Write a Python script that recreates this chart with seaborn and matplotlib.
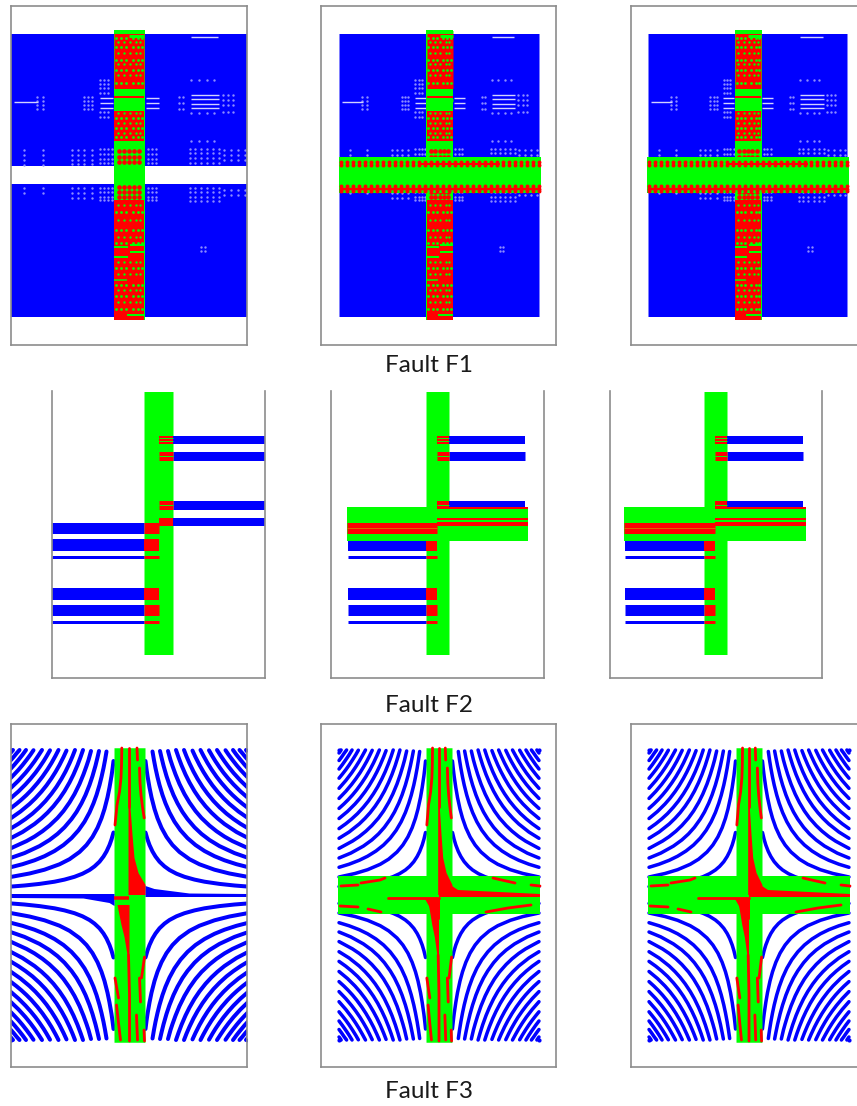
import itertools
import numpy as np
import pandas as pd
import matplotlib
matplotlib.use("Agg")
import matplotlib.pyplot as plt
import seaborn as sns

W, H = 857, 1106
BLUE, GREEN, RED = "#0000ff", "#00ff00", "#ff0000"
FRAME = "#8c8c8c"

# panel frames in picture pixels: left, right, top, bottom, centre of the fault column
F1_PANELS = [(11, 247, 6, 345, 129.5), (321, 556, 6, 345, 439.5), (631, 857, 6, 345, 748)]
F2_PANELS = [(52, 265, 391, 678, 158.5), (331, 544, 391, 678, 437.5), (610, 822, 391, 678, 715)]
F3_PANELS = [(11, 247, 724, 1067, 129.5), (321, 556, 724, 1067, 439), (631, 857, 724, 1067, 749)]
TITLES = ["Fault F1", "Fault F2", "Fault F3"]
TITLE_Y = [366, 705, 1091]

# ---- fault F1
F1_BLUE_Y = (34, 317)
F1_GAP_Y = (166, 184)
F1_RED_SPANS = [(34, 89), (96, 98), (111, 141), (200, 320)]
F1_GREEN_ROWS = [(-15, 15, 32, 3), (0, 15, 36, 3), (-15, 15, 92, 4), (-15, -1, 104, 12), (1, 15, 100, 3),
                 (1, 15, 106, 2), (-15, -1, 247, 2), (-15, -1, 257, 2), (1, 15, 245, 2), (1, 15, 252, 2),
                 (-15, -2, 280, 1.5), (-2, 15, 315, 2)]
F1_COL_DX_A = [-13, -8, -3, 4, 9, 13]
F1_COL_DX_B = [-11, -5, 1, 7, 11]
F1_COL_Y_A = [38, 47, 60, 70, 83, 118, 128, 137, 212, 230, 243, 268, 285, 296, 309]
F1_COL_Y_B = [42, 53, 64, 75, 113, 123, 133, 205, 220, 237, 262, 274, 290, 302]
F1_MIX_DX = [-10, -5, 0, 5, 10]
F1_MIX_Y = [151, 157, 162, 187, 192, 197]
F1_WHITE_LINES = [(-116, -91, 102), (-29.5, -16.5, 98), (-29.5, -16.5, 103), (-29.5, -16.5, 108),
                  (17, 30, 98), (17, 30, 103), (17, 30, 108), (62, 90, 95), (62, 90, 99), (62, 90, 104),
                  (62, 90, 108), (62, 89, 37)]
F1_HOLES = [([-106, -86], [150, 155, 160, 165, 188, 193]),
            ([-57, -51, -45, -37], [150, 155, 160, 164, 188, 193, 198]),
            ([-29, -25, -21, -17], [149, 154, 159, 163, 188, 192, 197, 200]),
            ([19, 23, 27], [149, 154, 159, 163, 188, 192, 197, 200]),
            ([61, 66, 72, 78, 84, 90], [149, 153, 158, 163, 188, 192, 197, 201]),
            ([95, 102, 109, 116], [150, 155, 160, 190, 195]),
            ([-29, -25, -21], [80, 84, 88, 93, 112, 117]),
            ([-45, -41, -37], [97, 101, 105, 109]),
            ([-92, -86], [97, 101, 105, 109]),
            ([50, 54], [97, 103, 109]),
            ([94, 99, 104], [95, 100, 105, 112]),
            ([62, 70, 78, 85], [80, 113, 141]),
            ([72, 76], [247, 251])]
F1_BAND_Y = (157, 193)
F1_BAND_DX = [-99, -93, -87, -81, -75, -69, -63, -57, -51, -45, -39, -33, -27, -21, -15, -9, -3, 3, 9, 15,
              21, 27, 33, 39, 45, 51, 57, 63, 69, 75, 81, 87, 93, 99]
F1_BAND_ROWS = [162, 165, 186, 189, 191]

# ---- fault F2, rows are top and bottom y of each stripe
F2_RIGHT_ROWS = [(436, 444), (452, 461), (501, 510), (518, 526)]
F2_LEFT_ROWS = [(523, 534), (539, 551), (556, 559), (588, 600), (605, 616), (621, 624)]
F2_COLUMN_Y = (392, 655)
F2_EDGE = 91
F2_BAND_Y = (507, 541)
F2_BAND_RED_LEFT = (523, 534)
F2_BAND_RED_RIGHT = [(507, 509), (518, 520), (522, 526)]
F2_STUB_GREEN = [437.5, 441, 456, 505]

# ---- fault F3, streamlines of the upper left quadrant as (distance from centre x, distance from centre y)
F3_CURVES = [
    [(16, 62.5), (18, 55.6), (20, 50), (23, 43.5), (26, 38.5), (30, 33.3), (35, 28.6), (40, 25), (47, 21.3),
     (55, 18.2), (65, 15.4), (75, 13.3), (90, 11.1), (105, 9.5), (119, 8.4)],
    [(16, 134), (17, 126), (18, 119), (20, 107.5), (22, 97.7), (25, 86), (28, 76.8), (32, 67.2), (37, 58.1),
     (43, 50), (50, 43), (60, 35.8), (70, 30.7), (85, 25.3), (100, 21.5), (119, 18)],
    [(23, 143.5), (24.5, 134.7), (26, 126.9), (28, 117.9), (30, 110), (33, 100), (36, 91.7), (40, 82.5),
     (45, 73.3), (51, 64.7), (58, 56.9), (66, 50), (75, 44), (85, 38.8), (95, 34.7), (107, 30.8), (119, 27.7)],
    [(30.5, 144), (32, 137.5), (34, 129.4), (37, 118.9), (40, 110), (44, 100), (48, 91.7), (53, 83), (58, 75.9),
     (65, 67.7), (72, 61.1), (80, 55), (90, 48.9), (105, 41.9), (119, 37)],
    [(38.5, 144), (41, 135), (43, 129), (46, 120.7), (50, 111), (55, 100.9), (60, 92.5), (66, 84), (72, 77),
     (80, 69.4), (87, 63.8), (95, 58.4), (103, 53.9), (119, 46.6)],
    [(46.5, 145), (49, 137.8), (52, 129.8), (56, 120.5), (60, 112.5), (65, 103.8), (70, 96.4), (76, 88.8),
     (82, 82.3), (88, 76.7), (95, 71), (107, 63), (119, 56.7)],
    [(54.5, 145), (57, 138.6), (60, 131.7), (64, 123.4), (68, 116.2), (73, 108.2), (78, 101.3), (84, 94),
     (90, 87.8), (97, 81.4), (104, 76), (111, 71.2), (119, 66.4)],
    [(63, 144.4), (66, 137.9), (70, 130), (74, 123), (78, 116.7), (83, 109.6), (88, 103.4), (94, 96.8),
     (100, 91), (109, 83.5), (119, 76.5)],
    [(71, 145), (74, 139.2), (78, 132), (82, 125.6), (87, 118.4), (92, 112), (98, 105.1), (103, 100),
     (108, 95.4), (113, 91.2), (119, 86.6)],
    [(79.5, 144.7), (83, 138.6), (86, 133.7), (90, 127.8), (94, 122.3), (99, 116.2), (104, 110.6), (111, 103.6),
     (119, 96.6)],
    [(87.5, 145), (91, 139.6), (95, 133.7), (99, 128.3), (104, 122.1), (111, 114.4), (119, 106.7)],
    [(96, 144.8), (99, 140.4), (103, 135), (107, 129.9), (111, 125.2), (115, 120.9), (119, 116.8)],
    [(103.5, 145), (107, 140.2), (110, 136.4), (115, 130.4), (119, 126)],
    [(110, 145), (113, 141.6), (116, 137.9), (119, 134.5)],
    [(116.5, 145), (119, 142)],
]
# red strokes inside the column: dx, dy with dy up from centre
F3_RED_STROKES = [
    [(-7.7, 147), (-8, 130), (-8.5, 117), (-10, 103), (-12.5, 90), (-14.5, 70)],
    [(0, 147), (0, 88)],
    [(7.5, 147), (8, 135)],
    [(10, 127), (10.5, 112), (11.5, 100), (13, 88), (14.7, 77)],
    [(-14.5, -83), (-11, -103)],
    [(-13, -110), (-11, -128), (-9, -145)],
    [(-1, -60), (0, -100), (0, -146)],
    [(7, -120), (8, -145)],
    [(10, -83), (11, -107)],
    [(15, -62), (12, -83)],
    [(14.5, -135), (15, -146)],
]
F3_RED_TOP = [(-1, 87), (1, 87), (3, 60), (5, 37), (9, 22), (16, 10), (16, 0), (-1, 0)]
F3_RED_LOW = [(-12, -10), (0, -10), (0, -60), (-2, -60), (-5, -42), (-8, -30)]
F3_BLUE_LEFT = [(-119.5, 1), (-15, 1), (-15, -11), (-20, -8), (-46, -3.5), (-119.5, -3)]
F3_BLUE_RIGHT = [(16, -2), (117.5, -2), (117.5, 1), (60, 1.5), (25, 6), (16, 9)]
F3_BAND_STROKES = [
    [(-98, 9), (-81, 10)], [(-78, 12), (-59, 15), (-54, 17)], [(54, 17), (76, 12)], [(92, 10), (101, 9)],
    [(-99, -11), (-81, -12)], [(-71, -14), (-58, -17)], [(47, -17), (69, -13), (92, -10)],
    [(-51, -2.5), (0, -2.5)],
]
F3_BAND_WEDGE = [(0, 20), (7, 13), (19, 5), (101, 1), (101, -2), (0, -2)]
F3_BAND_LOW = [(-14, -4), (1, -4), (1, -25), (-5, -20)]
F3_CORNER = (119, 145)

SCALE_WIDE = 1.0
SCALE_NARROW = 0.84

sns.set_style("white")
plt.rcParams["font.family"] = ["Lato", "DejaVu Sans"]
fig = plt.figure(figsize=(W / 100, H / 100), dpi=100)
order = itertools.count(3)


def panel(box, top=True, right=True):
    l, r, t, b = box[:4]
    ax = fig.add_axes([l / W, 1 - b / H, (r - l) / W, (b - t) / H])
    ax.set_xlim(l, r)
    ax.set_ylim(b, t)
    ax.set_xticks([])
    ax.set_yticks([])
    ax.set_facecolor("white")
    for name, s in ax.spines.items():
        s.set_color(FRAME)
        s.set_linewidth(1.2)
        s.set_zorder(5000)
    ax.spines["top"].set_visible(top)
    ax.spines["right"].set_visible(right)
    return ax


def seg(ax, xs, ys, width, color, cap="butt"):
    # width in picture pixels
    sns.lineplot(x=list(xs), y=list(ys), ax=ax, color=color, linewidth=width * 0.72, zorder=next(order),
                 estimator=None, sort=False, solid_capstyle=cap, legend=False)


def band(ax, x0, x1, y0, y1, color):
    seg(ax, [x0, x1], [(y0 + y1) / 2] * 2, y1 - y0, color)


def dots(ax, xs, ys, color, size=3):
    gx, gy = np.meshgrid(xs, ys)
    df = pd.DataFrame({"x": gx.ravel(), "y": gy.ravel()})
    sns.scatterplot(data=df, x="x", y="y", ax=ax, color=color, s=size, linewidth=0, legend=False,
                    zorder=next(order))
    ax.set_xlabel("")
    ax.set_ylabel("")


def shape_fill(ax, xs, ys, color):
    ax.fill(xs, ys, color=color, lw=0, zorder=next(order))


def draw_f1(ax, cx, with_band):
    k = SCALE_NARROW if with_band else SCALE_WIDE
    half = 13.5 if with_band else 15.5
    x0, x1 = cx - 119.5 * k, cx + 118 * k
    band(ax, x0, x1, F1_BLUE_Y[0], F1_BLUE_Y[1], BLUE)
    if not with_band:
        band(ax, x0 - 1, x1 + 1, F1_GAP_Y[0], F1_GAP_Y[1], "white")
    for dx, rows in F1_HOLES:
        dots(ax, [cx + d * k for d in dx], rows, "#8c8cff", 3)
    for a, b, y in F1_WHITE_LINES:
        band(ax, cx + a * k, cx + b * k, y - 0.7, y + 0.7, "#d2d2ff")
    band(ax, cx - half, cx + half, 30, 320, GREEN)
    for y0, y1 in F1_RED_SPANS:
        band(ax, cx - half + 0.5, cx + half - 0.5, y0, y1, RED)
    fac = half / 15.5
    for a, b, y, h in F1_GREEN_ROWS:
        band(ax, cx + a * fac, cx + b * fac, y - h / 2, y + h / 2, GREEN)
    dots(ax, [cx + d * fac for d in F1_COL_DX_A], F1_COL_Y_A, GREEN, 4)
    dots(ax, [cx + d * fac for d in F1_COL_DX_B], F1_COL_Y_B, GREEN, 3)
    dots(ax, [cx + d * fac for d in F1_MIX_DX], F1_MIX_Y, RED, 11)
    if with_band:
        band(ax, cx - 101, cx + 101, F1_BAND_Y[0], F1_BAND_Y[1], GREEN)
        band(ax, cx - 100, cx + 100, 187.5, 190, RED)
        band(ax, cx - 20, cx + 60, 163, 165, RED)
        dots(ax, [cx + d for d in F1_BAND_DX], F1_BAND_ROWS, RED, 8)


def draw_f2(ax, cx, with_band):
    half = 11.5 if with_band else 14.5
    band(ax, cx - half, cx + half, F2_COLUMN_Y[0], F2_COLUMN_Y[1], GREEN)
    for y0, y1 in F2_RIGHT_ROWS:
        if with_band and y0 == 518:
            continue
        if with_band and y0 == 501:
            y1 = 507
        end = F2_EDGE - 3 if with_band else 106.5
        band(ax, cx + half, cx + end, y0, y1, BLUE)
        band(ax, cx, cx + half, y0, y1, RED)
    for y in F2_STUB_GREEN:
        band(ax, cx, cx + half, y, y + 1, GREEN)
    for y0, y1 in F2_LEFT_ROWS:
        if with_band and y0 == 523:
            continue
        if with_band and y0 == 539:
            y0 = 541
        start = F2_EDGE - 1 if with_band else 106.5
        band(ax, cx - start, cx - half, y0, y1, BLUE)
        band(ax, cx - half, cx, y0, y1, RED)
    if with_band:
        band(ax, cx - F2_EDGE, cx + F2_EDGE, F2_BAND_Y[0], F2_BAND_Y[1], GREEN)
        band(ax, cx - F2_EDGE, cx, F2_BAND_RED_LEFT[0], F2_BAND_RED_LEFT[1], RED)
        band(ax, cx - F2_EDGE, cx, 528, 529, "#e06000")
        for y0, y1 in F2_BAND_RED_RIGHT:
            band(ax, cx, cx + F2_EDGE, y0, y1, RED)


def draw_f3(ax, cx, with_band):
    k = SCALE_NARROW if with_band else SCALE_WIDE
    half = 13 if with_band else 15.5
    cy = 895
    lw = 3.5 if with_band else 4.0
    # all four quadrants come from the same traced table
    for curve in F3_CURVES:
        dx = np.array([p[0] for p in curve]) * k
        dy = np.array([p[1] for p in curve])
        for sx in (-1, 1):
            for sy in (-1, 1):
                seg(ax, cx + sx * dx, cy + sy * dy, lw, BLUE, "round")
    for sx in (-1, 1):
        for sy in (-1, 1):
            dots(ax, [cx + sx * F3_CORNER[0] * k], [cy + sy * F3_CORNER[1]], BLUE, 9)
    band(ax, cx - half, cx + half, cy - 147.5, cy + 147, GREEN)
    if with_band:
        band(ax, cx - 101, cx + 101, cy - 19, cy + 19, GREEN)
    else:
        for shape in (F3_BLUE_LEFT, F3_BLUE_RIGHT):
            shape_fill(ax, [cx + p[0] for p in shape], [cy - p[1] for p in shape], BLUE)
    fac = half / 15.5
    for stroke in F3_RED_STROKES:
        seg(ax, [cx + p[0] * fac for p in stroke], [cy - p[1] for p in stroke], 2.8, RED, "round")
    for shape in (F3_RED_TOP, F3_RED_LOW):
        shape_fill(ax, [cx + p[0] * fac for p in shape], [cy - p[1] for p in shape], RED)
    if with_band:
        for stroke in F3_BAND_STROKES:
            seg(ax, [cx + p[0] for p in stroke], [cy - p[1] for p in stroke], 2.8, RED, "round")
        for shape in (F3_BAND_WEDGE, F3_BAND_LOW):
            shape_fill(ax, [cx + p[0] for p in shape], [cy - p[1] for p in shape], RED)
    else:
        seg(ax, [cx - half, cx], [cy + 3, cy + 3], 3.5, RED)


for i, box in enumerate(F1_PANELS):
    ax = panel(box, right=i < 2)
    draw_f1(ax, box[4], i > 0)
for i, box in enumerate(F2_PANELS):
    ax = panel(box, top=False)
    draw_f2(ax, box[4], i > 0)
for i, box in enumerate(F3_PANELS):
    ax = panel(box, right=i < 2)
    draw_f3(ax, box[4], i > 0)

for title, y in zip(TITLES, TITLE_Y):
    fig.text(429 / W, 1 - y / H, title, ha="center", va="center", fontsize=17.5, color="#1a1a1a")

fig.savefig("out.png", dpi=100)
